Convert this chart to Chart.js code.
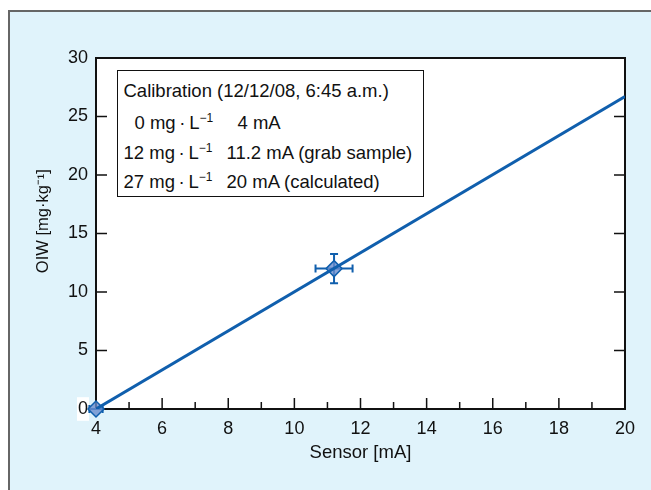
<!DOCTYPE html>
<html>
<head>
<meta charset="utf-8">
<script src="https://cdn.jsdelivr.net/npm/chart.js@4"></script>
<style>
  html, body { margin: 0; padding: 0; background: #fff; }
  body { width: 651px; height: 490px; position: relative; overflow: hidden; font-family: "Liberation Sans", Arial, sans-serif; }
  .panel { position: absolute; left: 8px; top: 10px; width: 700px; height: 520px; background: #e0f3fb; border-left: 2px solid #666; border-top: 2px solid #666; }
  #chart { position: absolute; left: 0; top: 0; }
  .calib { position: absolute; left: 117px; top: 70px; width: 305px; height: 125px; background: #fff; border: 1.5px solid #111; font-size: 18.5px; color: #111; }
  .calib span { position: absolute; white-space: nowrap; line-height: 22px; }
  .calib sup { font-size: 12px; line-height: 0; vertical-align: 7px; }
</style>
</head>
<body>
<div class="panel"></div>
<canvas id="chart" width="651" height="490"></canvas>
<div class="calib">
  <span style="left:5.5px;top:9px">Calibration (12/12/08, 6:45 a.m.)</span>
  <span style="left:16.5px;top:41px">0 mg&thinsp;·&thinsp;L<sup>−1</sup></span>
  <span style="left:119.5px;top:41px">4 mA</span>
  <span style="left:5.5px;top:70.5px">12 mg&thinsp;·&thinsp;L<sup>−1</sup></span>
  <span style="left:108.5px;top:70.5px">11.2 mA (grab sample)</span>
  <span style="left:5.5px;top:99.5px">27 mg&thinsp;·&thinsp;L<sup>−1</sup></span>
  <span style="left:108.5px;top:99.5px">20 mA (calculated)</span>
</div>
<script>
const sensorMa = [4, 20];
const oiwFit = [0, 26.7];
const calSensor = [4, 11.2];
const calOiw = [0, 12];
const calSensorErr = [0.2, 0.56];
const calOiwErr = [0, 1.25];

const blue = "#105fad";

const framePlugin = {
	id: "frame",
	beforeDraw(chart) {
		const { ctx, chartArea: a } = chart;
		ctx.save();
		ctx.fillStyle = "#fff";
		ctx.fillRect(a.left, a.top, a.right - a.left, a.bottom - a.top);
		ctx.restore();
	},
	beforeDatasetsDraw(chart) {
		const { ctx, chartArea: a, scales } = chart;
		const x = scales.x;
		const y = scales.y;
		ctx.save();
		ctx.strokeStyle = "#111";
		ctx.lineWidth = 1.5;
		ctx.beginPath();
		x.ticks.forEach((t) => {
			const px = x.getPixelForValue(t.value);
			const len = t.value % 2 === 0 ? 11 : 7;
			ctx.moveTo(px, a.bottom);
			ctx.lineTo(px, a.bottom - len);
		});
		y.ticks.forEach((t) => {
			const py = y.getPixelForValue(t.value);
			ctx.moveTo(a.left, py);
			ctx.lineTo(a.left + 11, py);
			ctx.moveTo(a.right, py);
			ctx.lineTo(a.right - 11, py);
		});
		ctx.stroke();
		ctx.lineWidth = 2;
		ctx.strokeRect(a.left, a.top, a.right - a.left, a.bottom - a.top);

		// error bars on the calibration points
		ctx.strokeStyle = blue;
		ctx.lineWidth = 2;
		ctx.beginPath();
		calSensor.forEach((sx, i) => {
			const cx = x.getPixelForValue(sx);
			const cy = y.getPixelForValue(calOiw[i]);
			if (calSensorErr[i]) {
				const x0 = x.getPixelForValue(sx - calSensorErr[i]);
				const x1 = x.getPixelForValue(sx + calSensorErr[i]);
				ctx.moveTo(x0, cy); ctx.lineTo(x1, cy);
				ctx.moveTo(x0, cy - 4); ctx.lineTo(x0, cy + 4);
				ctx.moveTo(x1, cy - 4); ctx.lineTo(x1, cy + 4);
			}
			if (calOiwErr[i]) {
				const y0 = y.getPixelForValue(calOiw[i] - calOiwErr[i]);
				const y1 = y.getPixelForValue(calOiw[i] + calOiwErr[i]);
				ctx.moveTo(cx, y0); ctx.lineTo(cx, y1);
				ctx.moveTo(cx - 4, y0); ctx.lineTo(cx + 4, y0);
				ctx.moveTo(cx - 4, y1); ctx.lineTo(cx + 4, y1);
			}
		});
		ctx.stroke();
		ctx.restore();
	},
};

new Chart(document.getElementById("chart"), {
	type: "scatter",
	data: {
		datasets: [
			{
				data: sensorMa.map((v, i) => ({ x: v, y: oiwFit[i] })),
				showLine: true,
				borderColor: blue,
				borderWidth: 3,
				pointRadius: 0,
				order: 0,
			},
			{
				data: calSensor.map((v, i) => ({ x: v, y: calOiw[i] })),
				pointStyle: "rectRot",
				pointRadius: 8,
				backgroundColor: "rgba(105,140,205,0.8)",
				borderColor: blue,
				borderWidth: 1.5,
				clip: false,
				order: 1,
			},
		],
	},
	options: {
		responsive: false,
		animation: false,
		events: [],
		layout: { padding: { left: 0, top: 58, right: 26, bottom: 0 } },
		plugins: {
			legend: { display: false },
			tooltip: { enabled: false },
		},
		scales: {
			x: {
				type: "linear",
				min: 4,
				max: 20,
				afterFit: (s) => { s.height = 81; },
				grid: { display: false, drawTicks: false },
				border: { color: "#111", width: 2 },
				ticks: {
					stepSize: 1,
					autoSkip: false,
					maxRotation: 0,
					padding: 9,
					color: "#111",
					font: { family: "Liberation Sans", size: 18 },
					callback: (v) => (v % 2 === 0 ? v : ""),
				},
				title: {
					display: true,
					text: "Sensor [mA]",
					color: "#111",
					font: { family: "Liberation Sans", size: 18.5 },
					padding: { bottom: 26 },
				},
			},
			y: {
				min: 0,
				max: 30,
				afterFit: (s) => { s.width = 96; },
				grid: { display: false, drawTicks: false },
				border: { color: "#111", width: 2 },
				ticks: {
					stepSize: 5,
					padding: 8,
					color: "#111",
					font: { family: "Liberation Sans", size: 18 },
					showLabelBackdrop: (c) => c.tick && c.tick.value === 0,
					backdropColor: "#fff",
					backdropPadding: 1,
				},
				title: {
					display: true,
					text: "\u2002\u2002\u2002OIW [mg·kg⁻¹]",
					color: "#111",
					font: { family: "Liberation Sans", size: 16.5 },
					padding: { top: 34 },
				},
			},
		},
	},
	plugins: [framePlugin],
});
</script>
</body>
</html>
